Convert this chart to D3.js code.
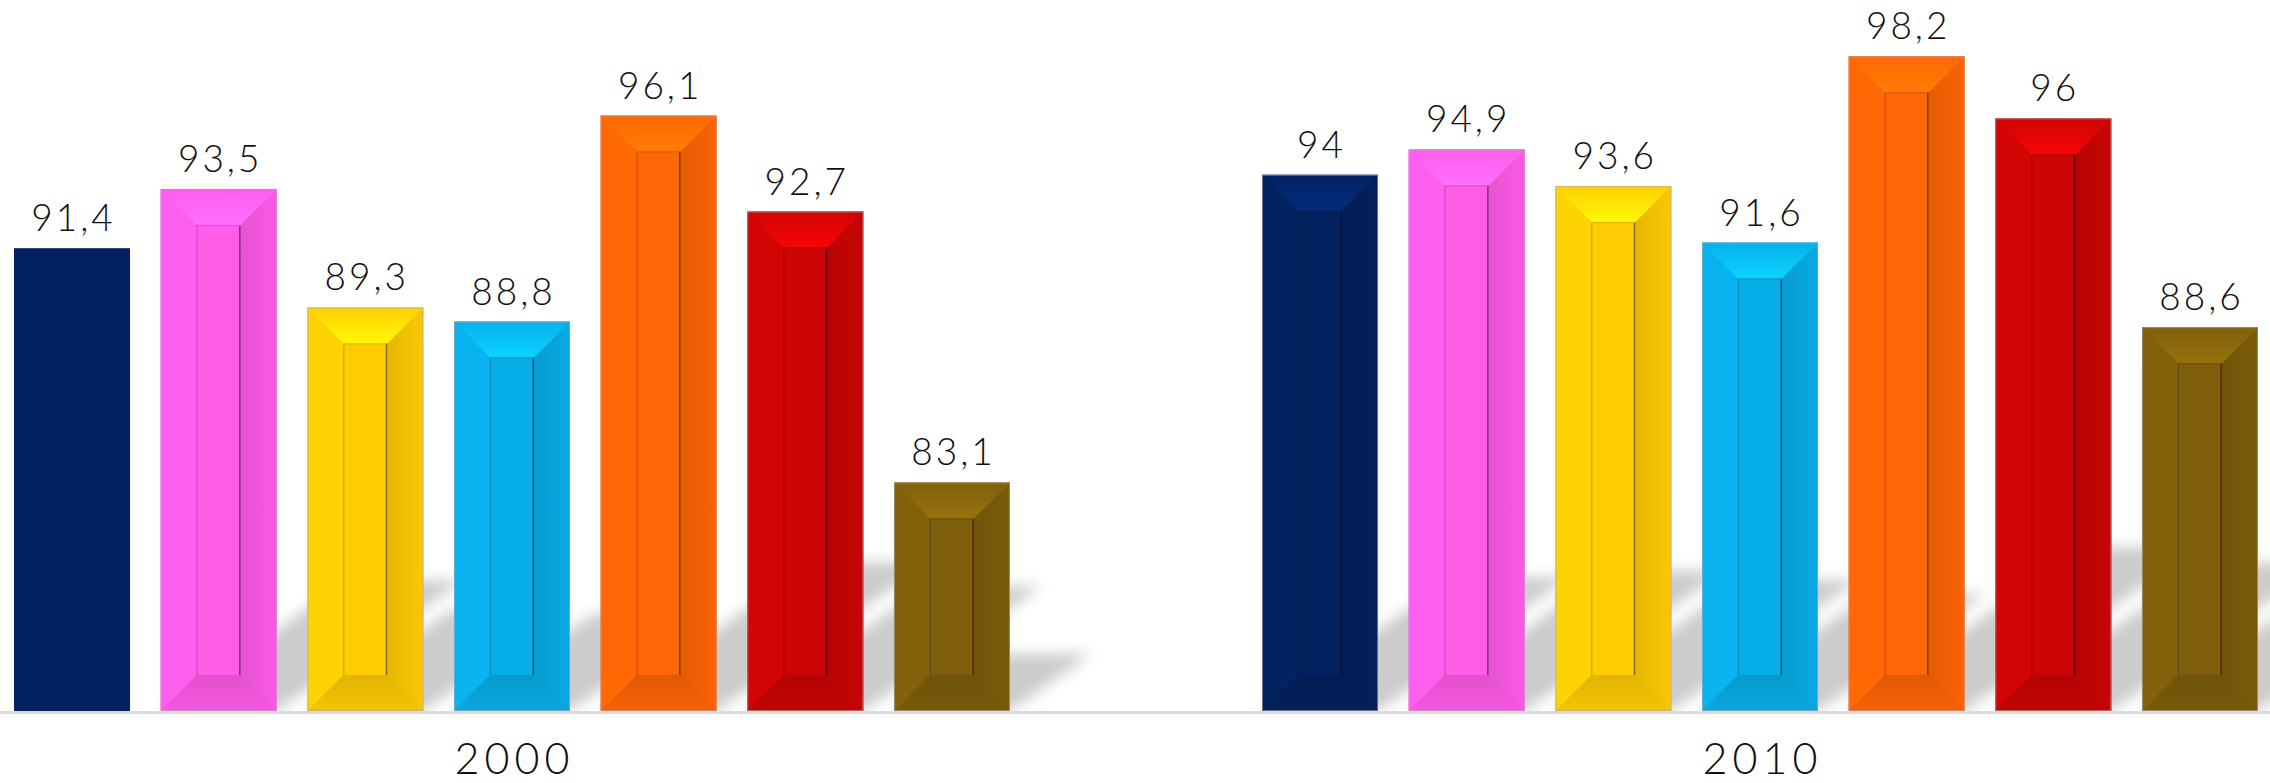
<!DOCTYPE html>
<html>
<head>
<meta charset="utf-8">
<script src="https://cdn.jsdelivr.net/npm/d3@7"></script>
<style>
  html, body { margin: 0; padding: 0; background: #fff; }
  svg { display: block; }
</style>
</head>
<body>
<div id="chart"></div>
<script>
/* Grouped bevel bars, 2000 vs 2010 */

const years = ["2000", "2010"];
const series = [0, 1, 2, 3, 4, 5, 6];
const values2000 = [91.4, 93.5, 89.3, 88.8, 96.1, 92.7, 83.1];
const values2010 = [94, 94.9, 93.6, 91.6, 98.2, 96, 88.6];
const colors = ["#03215f", "#ff5ce8", "#ffcc03", "#08aee8", "#ff6605", "#cc0404", "#7e5e0b"];
// the first 2000 bar is drawn flat in the original
const flatBars = ["2000|0"];

const width = 2270, height = 783;
const base = 711;
const bevel = 36;
const font = "Lato, 'Open Sans', sans-serif";

const svg = d3.select("#chart")
  .append("svg")
  .attr("width", width)
  .attr("height", height);

const xYear = d3.scaleBand().domain(years).range([-112, 2384]);
const xSeries = d3.scaleBand().domain(series).range([126, 1122]).paddingInner(0.209);
const y = d3.scaleLinear().domain([75, 100]).range([base, 5.5]);

const bars = [];
years.forEach((yr, gi) => {
  const vals = gi === 0 ? values2000 : values2010;
  series.forEach(s => {
    bars.push({ year: yr, s, v: vals[s], flat: flatBars.includes(`${yr}|${s}`) });
  });
});

const defs = svg.append("defs");

defs.append("filter").attr("id", "blur")
  .attr("x", "-20%").attr("y", "-20%").attr("width", "140%").attr("height", "140%")
  .append("feGaussianBlur").attr("stdDeviation", 7);

defs.append("clipPath").attr("id", "above-base")
  .append("rect").attr("x", 0).attr("y", 0).attr("width", width).attr("height", base);

// Per-colour gradients for the bevel faces
colors.forEach((c, i) => {
  const col = d3.color(c);
  const top = defs.append("linearGradient").attr("id", `top-${i}`)
    .attr("x1", 0).attr("y1", 0).attr("x2", 0).attr("y2", 1);
  top.append("stop").attr("offset", "0%").attr("stop-color", col.brighter(0.05));
  top.append("stop").attr("offset", "100%").attr("stop-color", col.brighter(i === 0 ? 0.75 : 0.55));

  const right = defs.append("linearGradient").attr("id", `right-${i}`)
    .attr("x1", 0).attr("y1", 0).attr("x2", 1).attr("y2", 0);
  right.append("stop").attr("offset", "0%").attr("stop-color", col.darker(0.3));
  right.append("stop").attr("offset", "100%").attr("stop-color", col.darker(0.05));

  const bottom = defs.append("linearGradient").attr("id", `bottom-${i}`)
    .attr("x1", 0).attr("y1", 0).attr("x2", 0).attr("y2", 1);
  bottom.append("stop").attr("offset", "0%").attr("stop-color", col.darker(0.35));
  bottom.append("stop").attr("offset", "100%").attr("stop-color", col.darker(0.12));
});

// Baseline
svg.append("line")
  .attr("x1", 0).attr("x2", width)
  .attr("y1", base + 1.5).attr("y2", base + 1.5)
  .attr("stroke", "#dcdcdc")
  .attr("stroke-width", 3);

// Shadows (perspective, towards upper right)
const shadowK = 1.43, shadowRatio = 0.25;
svg.append("g")
  .attr("clip-path", "url(#above-base)")
  .selectAll("path")
  .data(bars.filter(d => !d.flat))
  .join("path")
  .attr("d", d => {
    const x0 = xYear(d.year) + xSeries(d.s);
    const x1 = x0 + xSeries.bandwidth();
    const h = (base - y(d.v)) * shadowRatio;
    const dx = h * shadowK;
    return `M${x0},${base}L${x1},${base}L${x1 + dx},${base - h}L${x0 + dx},${base - h}Z`;
  })
  .attr("fill", "#000")
  .attr("fill-opacity", 0.2)
  .attr("filter", "url(#blur)");

// Bars
const g = svg.append("g")
  .selectAll("g")
  .data(bars)
  .join("g");

g.each(function (d) {
  const el = d3.select(this);
  const x0 = xYear(d.year) + xSeries(d.s);
  const w = xSeries.bandwidth();
  const x1 = x0 + w;
  const y0 = y(d.v);
  const col = d3.color(colors[d.s]);

  if (d.flat) {
    el.append("rect")
      .attr("x", x0).attr("y", y0)
      .attr("width", w).attr("height", base - y0)
      .attr("fill", col);
    return;
  }

  const ix0 = x0 + bevel, ix1 = x1 - bevel;
  const iy0 = y0 + bevel, iy1 = base - bevel;

  el.append("rect")
    .attr("x", x0).attr("y", y0)
    .attr("width", w).attr("height", base - y0)
    .attr("fill", col);

  // left face
  el.append("path")
    .attr("d", `M${x0},${y0}L${ix0},${iy0}L${ix0},${iy1}L${x0},${base}Z`)
    .attr("fill", col.brighter(0.08));
  // right face
  el.append("path")
    .attr("d", `M${x1},${y0}L${ix1},${iy0}L${ix1},${iy1}L${x1},${base}Z`)
    .attr("fill", `url(#right-${d.s})`);
  // top face
  el.append("path")
    .attr("d", `M${x0},${y0}L${x1},${y0}L${ix1},${iy0}L${ix0},${iy0}Z`)
    .attr("fill", `url(#top-${d.s})`);
  // bottom face
  el.append("path")
    .attr("d", `M${x0},${base}L${x1},${base}L${ix1},${iy1}L${ix0},${iy1}Z`)
    .attr("fill", `url(#bottom-${d.s})`);

  // inner panel
  el.append("rect")
    .attr("x", ix0).attr("y", iy0)
    .attr("width", ix1 - ix0).attr("height", iy1 - iy0)
    .attr("fill", col);
  el.append("line")
    .attr("x1", ix0 + 0.5).attr("x2", ix0 + 0.5)
    .attr("y1", iy0).attr("y2", iy1)
    .attr("stroke", col.darker(0.6)).attr("stroke-width", 1.2);
  el.append("line")
    .attr("x1", ix1 - 0.8).attr("x2", ix1 - 0.8)
    .attr("y1", iy0).attr("y2", iy1)
    .attr("stroke", col.darker(1.8)).attr("stroke-width", 1.6);
  el.append("line")
    .attr("x1", ix0).attr("x2", ix1)
    .attr("y1", iy0 + 0.5).attr("y2", iy0 + 0.5)
    .attr("stroke", col.darker(0.4)).attr("stroke-width", 1);

  // thin outline
  el.append("rect")
    .attr("x", x0 + 0.5).attr("y", y0 + 0.5)
    .attr("width", w - 1).attr("height", base - y0 - 1)
    .attr("fill", "none")
    .attr("stroke", "#a8a8a8")
    .attr("stroke-opacity", 0.6)
    .attr("stroke-width", 1);
});

// Value labels
svg.append("g")
  .selectAll("text")
  .data(bars)
  .join("text")
  .attr("x", d => xYear(d.year) + xSeries(d.s) + xSeries.bandwidth() / 2 + 1.5)
  .attr("y", d => y(d.v) - 17)
  .attr("text-anchor", "middle")
  .attr("font-family", font)
  .attr("font-weight", 300)
  .attr("font-size", 37)
  .attr("letter-spacing", 3)
  .attr("fill", "#111")
  .text(d => String(d.v).replace(".", ","));

// Year labels
svg.append("g")
  .selectAll("text")
  .data(years)
  .join("text")
  .attr("x", d => xYear(d) + xYear.bandwidth() / 2 + 2.5)
  .attr("y", 774)
  .attr("text-anchor", "middle")
  .attr("font-family", font)
  .attr("font-weight", 300)
  .attr("font-size", 43)
  .attr("letter-spacing", 5)
  .attr("fill", "#111")
  .text(d => d);
</script>
</body>
</html>
